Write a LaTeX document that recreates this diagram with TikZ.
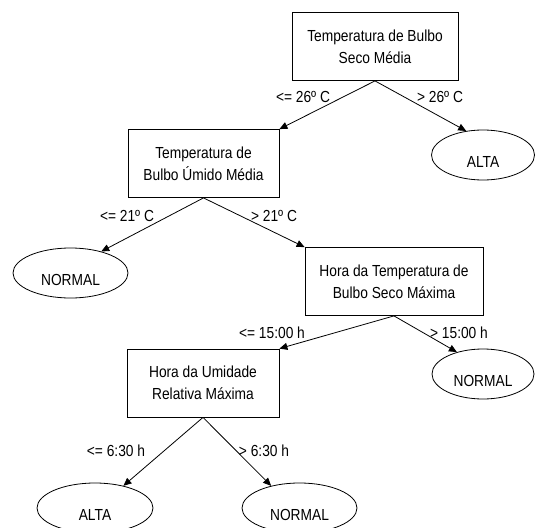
\documentclass[tikz,border=0pt]{standalone}
\usepackage{fontspec}
\setmainfont{Liberation Sans}[FakeStretch=0.86]
\usetikzlibrary{arrows.meta,shapes.geometric}

\begin{document}
\begin{tikzpicture}[x=1pt, y=-1pt,
    box/.style={draw, line width=0.8pt, align=center, minimum height=68pt, inner sep=2pt, font=\fontsize{16}{22}\selectfont},
    leaf/.style={draw, ellipse, line width=0.8pt, minimum width=110pt, minimum height=50pt, inner sep=2pt, text height=25pt, text depth=0pt, font=\fontsize{16}{20}\selectfont},
    arr/.style={-{Triangle[length=8pt, width=7pt]}, line width=0.8pt},
    lbl/.style={font=\fontsize{16}{20}\selectfont, inner sep=0pt}
]
\clip (0,0) rectangle (535,527);
\node[box, minimum width=166pt] (root) at (375,46.5) {Temperatura de Bulbo\\Seco Média};
\node[box, minimum width=151pt] (umido) at (203.5,163.5) {Temperatura de\\Bulbo Úmido Média};
\node[box, minimum width=178pt] (horats) at (394,281.5) {Hora da Temperatura de\\Bulbo Seco Máxima};
\node[box, minimum width=152pt] (horaur) at (203,383) {Hora da Umidade\\Relativa Máxima};
\node[leaf, minimum width=103pt] (alta1) at (483,155) {ALTA};
\node[leaf, minimum width=115pt] (normal1) at (70.5,273) {NORMAL};
\node[leaf, minimum width=102pt] (normal2) at (483,374) {NORMAL};
\node[leaf, minimum width=116pt] (alta2) at (95,508) {ALTA};
\node[leaf, minimum width=115pt] (normal3) at (299.5,508) {NORMAL};

\node[lbl] (l1) at (303,97) {<= 26º C};
\node[lbl] (l2) at (440,97) {> 26º C};
\node[lbl] (l3) at (127,216) {<= 21º C};
\node[lbl] (l4) at (274,216) {> 21º C};
\node[lbl] (l5) at (272,333) {<= 15:00 h};
\node[lbl] (l6) at (459,333) {> 15:00 h};
\node[lbl] (l7) at (116,451) {<= 6:30 h};
\node[lbl] (l8) at (264,451) {> 6:30 h};

\draw[arr] (root.south) -- (umido.north east);
\draw[arr] (root.south) -- (alta1.125);
\draw[arr] (umido.south) -- (normal1.35);
\draw[arr] (umido.south) -- (horats.north west);
\draw[arr] (horats.south) -- (horaur.north east);
\draw[arr] (horats.south) -- (normal2.140);
\draw[arr] (horaur.south) -- (alta2.38);
\draw[arr] (horaur.south) -- (normal3.142);
\end{tikzpicture}
\end{document}
